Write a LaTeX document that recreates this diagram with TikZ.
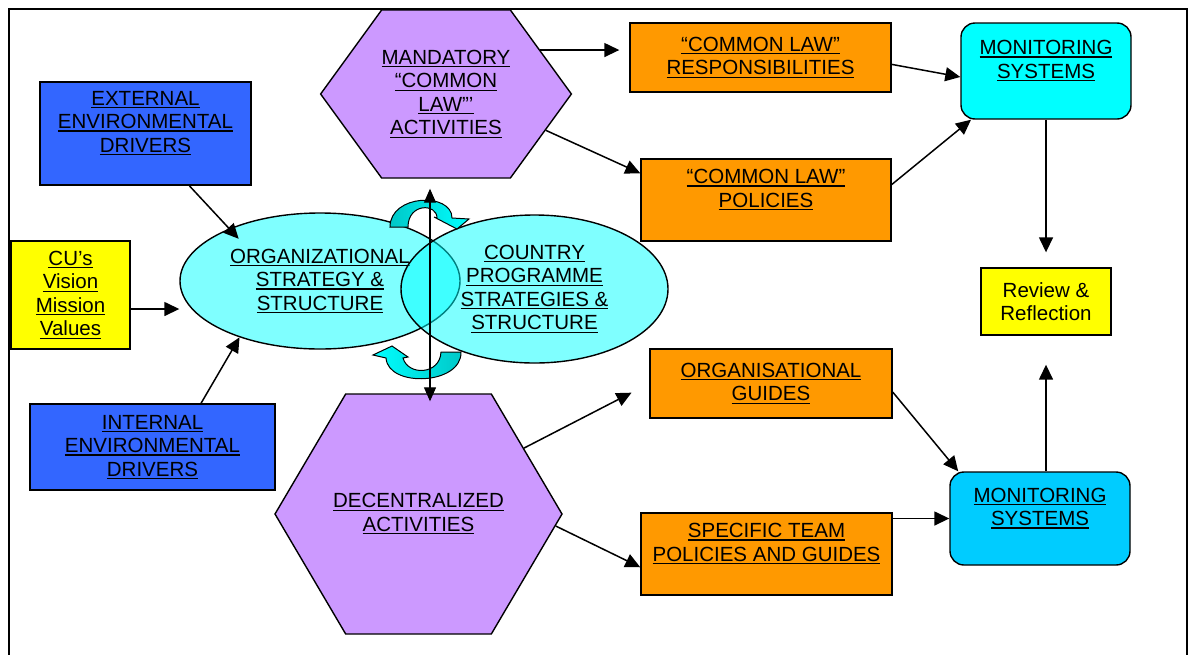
\documentclass[tikz,border=0pt]{standalone}
\usepackage{fontspec}
\setmainfont{Liberation Sans}
\usepackage{tikz}
\usetikzlibrary{shapes.geometric, shapes.symbols, arrows.meta, calc}
\definecolor{drvblue}{HTML}{3366FF}
\definecolor{laworange}{HTML}{FF9900}
\definecolor{actpurple}{HTML}{CC99FF}
\definecolor{monblue}{HTML}{00CCFF}
\definecolor{aqua}{HTML}{00FFFF}
\definecolor{swirldark}{HTML}{00C8C8}
\definecolor{paleyellow}{HTML}{FFFF00}
\newcommand{\boxfont}{\fontsize{20.5}{23.5}\selectfont}
\newsavebox{\lkbox}
\newcommand{\lk}[1]{\sbox{\lkbox}{#1}\rlap{\rule[-3pt]{\wd\lkbox}{1.4pt}}\usebox{\lkbox}}
\tikzstyle{box} = [rectangle, draw=black, line width=1.4pt, inner sep=0pt, align=center, font=\boxfont]
\tikzstyle{driver} = [box, fill=drvblue]
\tikzstyle{vision} = [box, fill=paleyellow]
\tikzstyle{lawbox} = [box, fill=laworange]
\tikzstyle{monitor} = [box, rounded corners=14pt]
\tikzstyle{activity} = [signal, signal to=east and west, draw=black, line width=1.4pt, fill=actpurple, inner sep=0pt, align=center, font=\boxfont]
\tikzstyle{strategy} = [ellipse, draw=black, line width=1.4pt, fill=aqua, fill opacity=0.5, text opacity=1, inner sep=0pt, align=center, font=\boxfont]
\tikzstyle{swirl} = [draw=black, line width=1pt]
\tikzstyle{arrow} = [line width=1.5pt, -{Triangle[length=15pt,width=14pt]}]
\tikzstyle{dblarrow} = [line width=1.2pt, {Triangle[length=14pt,width=12pt]}-{Triangle[length=14pt,width=12pt]}]

\begin{document}
\begin{tikzpicture}[x=1pt, y=-1pt]
    \useasboundingbox (0,0) rectangle (1193,654);
    \draw[line width=1.5pt] (9,660) -- (9,9) -- (1187,9) -- (1187,660);

    % drivers and vision
    \node[driver, minimum width=211pt, minimum height=103pt] (ext) at (145.5,133.5) {\lk{EXTERNAL}\\ \lk{ENVIRONMENTAL}\\ \lk{DRIVERS}\\ \mbox{}};
    \node[vision, minimum width=119pt, minimum height=108pt] (cu) at (70.5,295) {\lk{CU’s}\\ \lk{Vision}\\ \lk{Mission}\\ \lk{Values}};
    \node[driver, minimum width=245pt, minimum height=86pt] (int) at (152.5,447) {\lk{INTERNAL}\\ \lk{ENVIRONMENTAL}\\ \lk{DRIVERS}};

    % strategies
    \node[strategy, minimum width=280pt, minimum height=136pt] (org) at (320,281) {\lk{ORGANIZATIONAL}\\ \lk{STRATEGY \&}\\ \lk{STRUCTURE}};
    \node[strategy, minimum width=267pt, minimum height=148pt] (cty) at (534.5,289) {\lk{COUNTRY}\\ \lk{PROGRAMME}\\ \lk{STRATEGIES \&}\\ \lk{STRUCTURE}};

    % activities
    \node[activity, minimum width=249pt, minimum height=168pt, signal pointer angle=108] (mand) at (446,94) {\lk{MANDATORY}\\ \lk{“COMMON}\\ \lk{LAW”’}\\ \lk{ACTIVITIES}};
    \node[activity, minimum width=287pt, minimum height=240pt, signal pointer angle=119, inner xsep=-14pt] (dec) at (418.5,514) {\lk{DECENTRALIZED}\\ \lk{ACTIVITIES}};

    % policies and guides
    \node[lawbox, minimum width=261pt, minimum height=69pt] (resp) at (760.5,57.5) {\lk{“COMMON LAW”}\\ \lk{RESPONSIBILITIES}};
    \node[lawbox, minimum width=250pt, minimum height=82pt] (pol) at (766,200) {\lk{“COMMON LAW”}\\ \lk{POLICIES}\\ \mbox{}};
    \node[lawbox, minimum width=242pt, minimum height=69pt] (og) at (771,383.5) {\lk{ORGANISATIONAL}\\ \lk{GUIDES}};
    \node[lawbox, minimum width=251pt, minimum height=82pt] (spec) at (766.5,554) {\lk{SPECIFIC TEAM}\\ \lk{POLICIES AND GUIDES}\\ \mbox{}};

    % monitoring and review
    \node[monitor, fill=aqua, minimum width=170pt, minimum height=96pt] (mon1) at (1046,71) {\lk{MONITORING}\\ \lk{SYSTEMS}\\ \mbox{}};
    \node[monitor, fill=monblue, minimum width=180pt, minimum height=93pt] (mon2) at (1040,518.5) {\lk{MONITORING}\\ \lk{SYSTEMS}\\ \mbox{}};
    \node[vision, minimum width=130pt, minimum height=67pt] (rev) at (1046,301.5) {Review \&\\ Reflection};

    % turning arrows
    \path[swirl, left color=swirldark, right color=aqua] (390,227) .. controls (390,194) and (452,192) .. (452,218) -- (469,219) -- (457,229) -- (434,217) -- (437,218) .. controls (437,203) and (408,203) .. (408,227) -- cycle;
    \path[swirl, left color=aqua, right color=swirldark] (441,352) -- (461,352) .. controls (462,385) and (388,388) .. (386,358) -- (373,355) -- (392,346) -- (408,357) -- (403,358) .. controls (408,376) and (440,375) .. (441,352) -- cycle;

    % connectors
    \draw[arrow, shorten >=-14pt] (ext.-50) -- (org.150);
    \draw[arrow] ([yshift=-14pt]cu.east) -- ([yshift=-14pt]cu.east -| org.west);
    \draw[arrow] (int.42) -- (org.-145);
    \draw[arrow, shorten >=10pt] (mand.25) -- (mand.25 -| resp.west);
    \draw[arrow] (mand.-20) -- (pol.168);
    \draw[arrow] (resp.-3) -- (mon1.184);
    \draw[arrow] (pol.7) -- (mon1.213);
    \draw[arrow, shorten >=15pt] (mon1) -- (rev);
    \draw[arrow, shorten >=29pt] (mon2.north -| rev) -- (rev.south);
    \draw[arrow, shorten >=20pt] (dec.32) -- (og.west);
    \draw[arrow] (dec.-5) -- (spec.186);
    \draw[arrow] (og.-4) -- (mon2.150);
    \draw[arrow] (spec.east |- mon2.west) -- (mon2.west);
    \draw[dblarrow, shorten <=10pt, shorten >=-8pt] ([xshift=-16pt]mand.south) -- ([xshift=-16pt]mand.south |- dec.north);
\end{tikzpicture}
\end{document}
